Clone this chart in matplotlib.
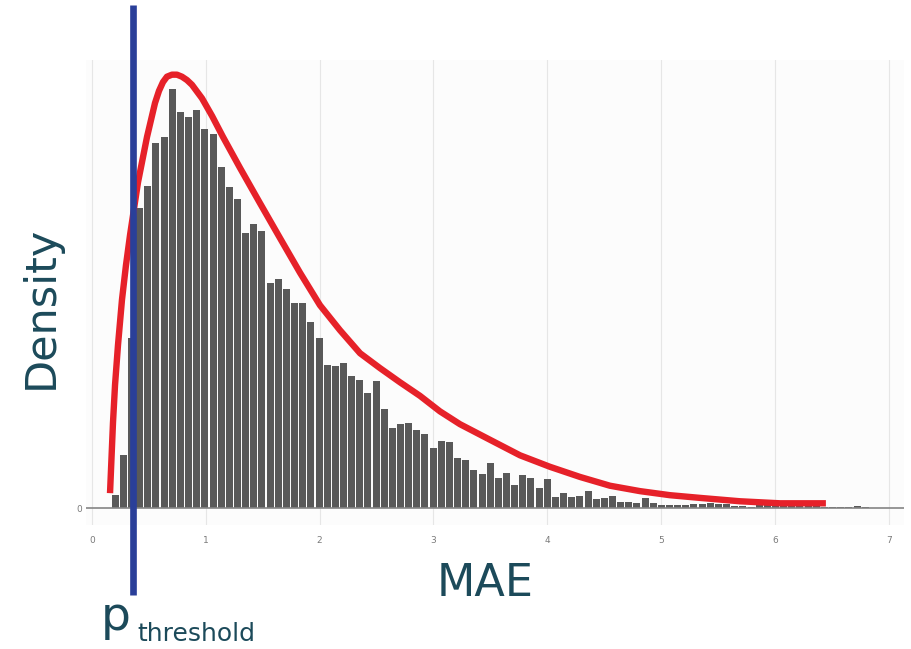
import numpy as np
import matplotlib
matplotlib.use("Agg")
import matplotlib.pyplot as plt
from matplotlib.transforms import blended_transform_factory

# ---- data ----
bin_start = 0.175
bin_width = 0.0716
hist_density = [
    0.019, 0.078, 0.251, 0.444, 0.476, 0.540, 0.549, 0.620, 0.586, 0.578,
    0.589, 0.561, 0.553, 0.504, 0.475, 0.457, 0.407, 0.420, 0.410, 0.333,
    0.339, 0.324, 0.303, 0.303, 0.275, 0.251, 0.212, 0.210, 0.214, 0.195,
    0.189, 0.170, 0.188, 0.146, 0.118, 0.124, 0.126, 0.115, 0.109, 0.089,
    0.099, 0.098, 0.074, 0.071, 0.056, 0.050, 0.067, 0.044, 0.052, 0.034,
    0.049, 0.044, 0.030, 0.043, 0.016, 0.022, 0.016, 0.018, 0.025, 0.013,
    0.015, 0.018, 0.009, 0.009, 0.007, 0.015, 0.007, 0.004, 0.004, 0.004,
    0.004, 0.006, 0.006, 0.007, 0.006, 0.006, 0.003, 0.003, 0.0015, 0.006,
    0.006, 0.006, 0.004, 0.006, 0.003, 0.003, 0.003, 0.0015, 0.001, 0.001,
    0.001, 0.003, 0.0015,
]

curve_x = [0.16, 0.186, 0.204, 0.23, 0.265, 0.30, 0.336, 0.406, 0.485, 0.555,
           0.59, 0.625, 0.66, 0.704, 0.748, 0.792, 0.836, 0.88, 0.968, 1.056,
           1.152, 1.302, 1.477, 1.654, 1.829, 2.004, 2.18, 2.356, 2.531, 2.707,
           2.882, 3.058, 3.234, 3.497, 3.761, 4.024, 4.288, 4.551, 4.815, 5.078,
           5.342, 5.693, 6.044, 6.448]
curve_y = [0.022, 0.126, 0.182, 0.241, 0.308, 0.359, 0.404, 0.482, 0.549, 0.599,
           0.617, 0.630, 0.638, 0.641, 0.641, 0.638, 0.633, 0.626, 0.606, 0.580,
           0.549, 0.503, 0.451, 0.399, 0.348, 0.300, 0.263, 0.229, 0.207, 0.186,
           0.166, 0.143, 0.124, 0.101, 0.078, 0.061, 0.046, 0.033, 0.025, 0.019,
           0.015, 0.010, 0.007, 0.007]

p_threshold = 0.366
x_ticks = [0, 1, 2, 3, 4, 5, 6, 7]

# ---- figure ----
W, H = 911, 649
fig = plt.figure(figsize=(W / 100, H / 100), dpi=100)
fig.patch.set_facecolor("white")

def fx(px):
    return px / W

def fy(py):
    return 1 - py / H

ax = fig.add_axes([fx(86), fy(525), fx(904) - fx(86), fy(60) - fy(525)])
ax.set_facecolor("#fcfcfc")
ax.set_xlim(-0.051, 7.134)
ax.set_ylim(-0.0251, 0.6627)

for s in ax.spines.values():
    s.set_visible(False)

ax.set_xticks(x_ticks)
ax.set_xticklabels([str(t) for t in x_ticks])
ax.set_yticks([0])
ax.set_yticklabels(["0"])
ax.tick_params(axis="both", length=0, labelsize=6.5, labelcolor="#7a7a7a")
ax.tick_params(axis="x", pad=8)
ax.tick_params(axis="y", pad=3)
ax.grid(axis="x", color="#e6e6e6", linewidth=0.8)
ax.grid(axis="y", visible=False)
ax.set_axisbelow(True)

edges = bin_start + bin_width * np.arange(len(hist_density))
ax.bar(edges, hist_density, width=bin_width * 0.86, align="edge",
       color="#595959", edgecolor="none", zorder=2)

ax.axhline(0, color="#858585", linewidth=1.2, zorder=3)

ax.plot(curve_x, curve_y, color="#e62129", linewidth=4.6,
        solid_capstyle="butt", solid_joinstyle="round", zorder=4)

trans = blended_transform_factory(ax.transData, fig.transFigure)
ax.plot([p_threshold, p_threshold], [fy(5), fy(595)], transform=trans,
        color="#2a3f99", linewidth=4.8, solid_capstyle="butt",
        clip_on=False, zorder=5)

tc = "#1c4a5a"
fig.text(fx(53), fy(307), "Density", rotation=90, rotation_mode="anchor",
         ha="center", va="baseline", fontsize=31, color=tc)
fig.text(fx(485), fy(596), "MAE", ha="center", va="baseline",
         fontsize=32, color=tc)
fig.text(fx(101), fy(630), "p", ha="left", va="baseline",
         fontsize=34, color=tc)
fig.text(fx(137), fy(641), "threshold", ha="left", va="baseline",
         fontsize=18, color=tc)

fig.savefig("out.png", dpi=100, facecolor="white")
